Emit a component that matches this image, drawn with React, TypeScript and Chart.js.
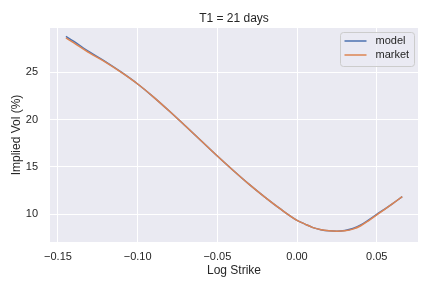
import React, { useEffect, useRef } from "react";
import { Chart, registerables } from "chart.js";

Chart.register(...registerables);

const logStrike = [
  -0.145, -0.14, -0.13, -0.12, -0.11, -0.1, -0.09, -0.08, -0.07, -0.06, -0.05, -0.04,
  -0.03, -0.02, -0.01, 0.0, 0.005, 0.01, 0.015, 0.02, 0.025, 0.03, 0.035, 0.04, 0.045,
  0.05, 0.055, 0.06, 0.066,
];
const modelVol = [
  28.8, 28.26, 27.12, 26.1, 24.98, 23.76, 22.38, 20.88, 19.32, 17.74, 16.15, 14.62,
  13.15, 11.78, 10.5, 9.35, 8.95, 8.58, 8.36, 8.24, 8.2, 8.27, 8.48, 8.86, 9.4,
  9.98, 10.54, 11.12, 11.85,
];
const marketVol = [
  28.63, 28.1, 27.02, 26.05, 24.96, 23.76, 22.38, 20.88, 19.32, 17.74, 16.15, 14.62,
  13.15, 11.78, 10.5, 9.35, 8.95, 8.58, 8.36, 8.24, 8.19, 8.24, 8.42, 8.78, 9.33,
  9.93, 10.52, 11.12, 11.85,
];
const xTicks = [-0.15, -0.1, -0.05, 0.0, 0.05];
const yTicks = [10, 15, 20, 25];
const seriesNames = ["model", "market"];
const seriesColors = ["#4C72B0", "#DD8452"];
const titleText = "T1 = 21 days";

const FONT = "'Liberation Sans', Arial, sans-serif";
const TEXT = "#262626";

const bgPlugin = {
  id: "bg",
  beforeDraw(chart: any) {
    const { ctx, chartArea } = chart;
    ctx.save();
    ctx.fillStyle = "#EAEAF2";
    ctx.fillRect(chartArea.left, chartArea.top, chartArea.right - chartArea.left, chartArea.bottom - chartArea.top);
    ctx.restore();
  },
  afterDraw(chart: any) {
    const { ctx, chartArea } = chart;
    ctx.save();
    // title
    ctx.fillStyle = TEXT;
    ctx.font = `12px ${FONT}`;
    ctx.textAlign = "center";
    ctx.textBaseline = "alphabetic";
    ctx.fillText(titleText, (chartArea.left + chartArea.right) / 2, 21.5);
    // legend
    const bx = chartArea.right - 77.5;
    const by = chartArea.top + 4.5;
    const bw = 74;
    const bh = 34;
    ctx.beginPath();
    (ctx as any).roundRect(bx, by, bw, bh, 3);
    ctx.fillStyle = "rgba(234,234,242,0.8)";
    ctx.fill();
    ctx.strokeStyle = "#cccccc";
    ctx.lineWidth = 1;
    ctx.stroke();
    ctx.font = `11px ${FONT}`;
    ctx.textAlign = "left";
    ctx.textBaseline = "middle";
    seriesNames.forEach((name, i) => {
      const y = by + 8.5 + i * 14;
      ctx.beginPath();
      ctx.strokeStyle = seriesColors[i];
      ctx.lineWidth = 1.5;
      ctx.moveTo(bx + 4, y);
      ctx.lineTo(bx + 26, y);
      ctx.stroke();
      ctx.fillStyle = TEXT;
      ctx.fillText(name, bx + 35, y);
    });
    ctx.restore();
  },
};

export default function App() {
  const ref = useRef<HTMLCanvasElement>(null);
  useEffect(() => {
    document.body.style.margin = "0";
    const canvas = ref.current!;
    const mk = (vals: number[]) => logStrike.map((x, i) => ({ x, y: vals[i] }));
    const chart = new Chart(canvas, {
      type: "line",
      data: {
        datasets: [
          {
            label: seriesNames[0],
            data: mk(modelVol),
            borderColor: seriesColors[0],
            borderWidth: 1.5,
            pointRadius: 0,
            cubicInterpolationMode: "monotone",
            order: 1,
          },
          {
            label: seriesNames[1],
            data: mk(marketVol),
            borderColor: seriesColors[1],
            borderWidth: 1.5,
            pointRadius: 0,
            cubicInterpolationMode: "monotone",
            order: 0,
          },
        ],
      },
      options: {
        responsive: false,
        animation: false,
        layout: { padding: { top: 28, right: 14, left: 0, bottom: 0 } },
        plugins: { legend: { display: false }, tooltip: { enabled: false }, title: { display: false } },
        scales: {
          x: {
            type: "linear",
            min: -0.155,
            max: 0.0759,
            border: { display: false },
            grid: { color: "#ffffff", lineWidth: 1, drawTicks: false },
            afterBuildTicks: (s: any) => {
              s.ticks = xTicks.map((v) => ({ value: v }));
            },
            afterFit: (s: any) => {
              s.height = 46;
            },
            ticks: {
              padding: 8,
              color: TEXT,
              font: { family: FONT, size: 11 },
              maxRotation: 0,
              autoSkip: false,
              callback: (v: any) => Number(v).toFixed(2).replace("-", "\u2212"),
            },
            title: {
              display: true,
              text: "Log Strike",
              color: TEXT,
              font: { family: FONT, size: 12 },
              padding: { top: 0, bottom: 10.5 },
            },
          },
          y: {
            type: "linear",
            min: 7.06,
            max: 29.68,
            border: { display: false },
            grid: { color: "#ffffff", lineWidth: 1, drawTicks: false },
            afterBuildTicks: (s: any) => {
              s.ticks = yTicks.map((v) => ({ value: v }));
            },
            afterFit: (s: any) => {
              s.width = 50;
            },
            ticks: {
              padding: 12,
              color: TEXT,
              font: { family: FONT, size: 11 },
              callback: (v: any) => String(v),
            },
            title: {
              display: true,
              text: "Implied Vol (%)",
              color: TEXT,
              font: { family: FONT, size: 12 },
              padding: { top: 9.5, bottom: 0 },
            },
          },
        },
      },
      plugins: [bgPlugin],
    });
    return () => chart.destroy();
  }, []);
  return (
    <div style={{ width: 432, height: 288 }}>
      <canvas ref={ref} width={432} height={288} />
    </div>
  );
}
